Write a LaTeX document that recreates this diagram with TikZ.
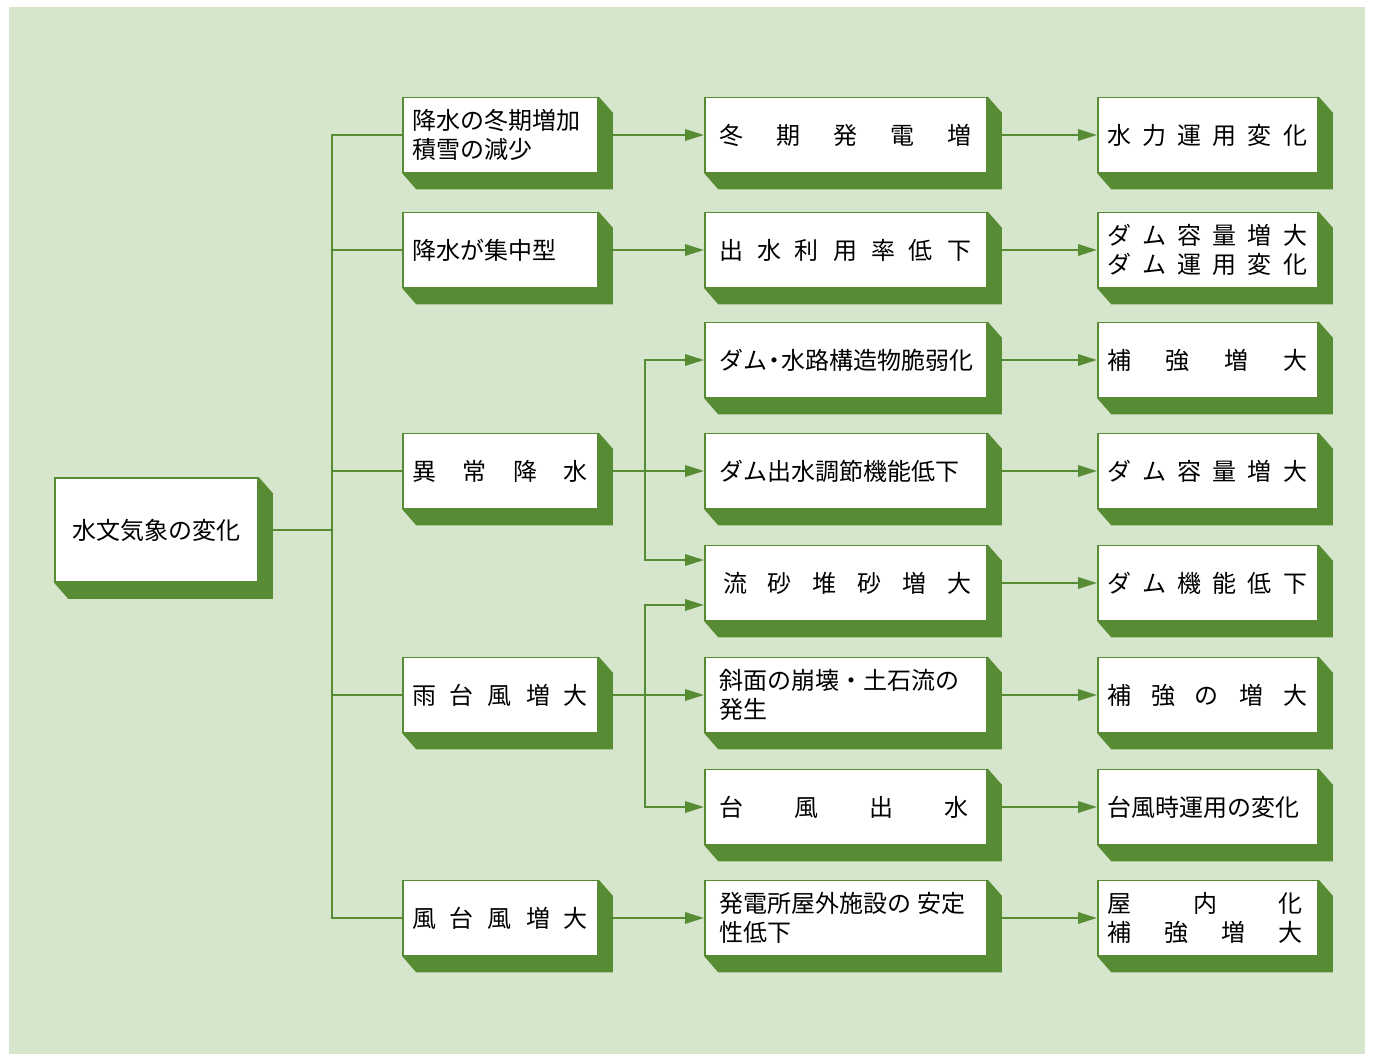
\documentclass[tikz,border=0pt]{standalone}
\usepackage{fontspec}
\setmainfont{Noto Sans CJK JP}
\usetikzlibrary{arrows.meta,calc}
\definecolor{bgg}{RGB}{214,230,204}
\definecolor{dg}{RGB}{88,140,52}
\pgfdeclarelayer{bglayer}
\pgfdeclarelayer{shlayer}
\pgfsetlayers{bglayer,shlayer,main}
\newcommand\spr[2]{\makebox[#1][s]{#2}}
\begin{document}
\begin{tikzpicture}[x=1pt,y=-1pt,
  box/.style={draw=dg,line width=1.6pt,fill=white,rectangle,inner ysep=0pt,
    minimum height=75pt,align=left,font=\fontsize{24}{29}\selectfont,text=black},
  col1/.style={box,minimum width=203pt,minimum height=104pt,align=center},
  col2/.style={box,inner xsep=9pt,text width=177pt},
  col3/.style={box,inner xsep=14pt,text width=254pt},
  col4/.style={box,inner xsep=9pt,text width=202pt},
  conn/.style={dg,line width=2.8pt},
  arr/.style={conn,-{Triangle[length=19pt,width=11pt]}},
]
\useasboundingbox (0,0) rectangle (1373,1059);
\begin{pgfonlayer}{bglayer}
  \fill[white] (0,0) rectangle (1373,1059);
  \fill[bgg] (9,7) rectangle (1365,1054);
\end{pgfonlayer}

% column 1
\node[col1] (a) at (156.5,530) {水文気象の変化};

% column 2
\node[col2] (b0) at (500.5,135) {降水の冬期増加\\積雪の減少};
\node[col2] (b1) at (500.5,250) {降水が集中型};
\node[col2] (b3) at (500.5,471) {\spr{176pt}{異\hfill 常\hfill 降\hfill 水}};
\node[col2] (b5) at (500.5,695) {\spr{176pt}{雨\hfill 台\hfill 風\hfill 増\hfill 大}};
\node[col2] (b7) at (500.5,918) {\spr{176pt}{風\hfill 台\hfill 風\hfill 増\hfill 大}};

% column 3
\node[col3] (c0) at (846,135) {\spr{252pt}{冬\hfill 期\hfill 発\hfill 電\hfill 増}};
\node[col3] (c1) at (846,250) {\spr{252pt}{出\hfill 水\hfill 利\hfill 用\hfill 率\hfill 低\hfill 下}};
\node[col3] (c2) at (846,360) {ダム{\makebox[14pt]{・}}水路構造物脆弱化};
\node[col3] (c3) at (846,471) {ダム出水調節機能低下};
\node[col3] (c4) at (846,583) {\hspace{4pt}\spr{248pt}{流\hfill 砂\hfill 堆\hfill 砂\hfill 増\hfill 大}};
\node[col3] (c5) at (846,695) {斜面の崩壊・土石流の\\発生};
\node[col3] (c6) at (846,807) {\spr{250pt}{台\hfill 風\hfill 出\hfill 水}};
\node[col3] (c7) at (846,918) {発電所屋外施設の\hspace{6pt}安定\\性低下};

% column 4
\node[col4] (d0) at (1208,135) {\spr{200pt}{水\hfill 力\hfill 運\hfill 用\hfill 変\hfill 化}};
\node[col4] (d1) at (1208,250) {\spr{200pt}{ダ\hfill ム\hfill 容\hfill 量\hfill 増\hfill 大}\\\spr{200pt}{ダ\hfill ム\hfill 運\hfill 用\hfill 変\hfill 化}};
\node[col4] (d2) at (1208,360) {\spr{200pt}{補\hfill 強\hfill 増\hfill 大}};
\node[col4] (d3) at (1208,471) {\spr{200pt}{ダ\hfill ム\hfill 容\hfill 量\hfill 増\hfill 大}};
\node[col4] (d4) at (1208,583) {\spr{200pt}{ダ\hfill ム\hfill 機\hfill 能\hfill 低\hfill 下}};
\node[col4] (d5) at (1208,695) {\spr{200pt}{補\hfill 強\hfill の\hfill 増\hfill 大}};
\node[col4] (d6) at (1208,807) {台風時運用の変化};
\node[col4] (d7) at (1208,918) {\spr{196pt}{屋\hfill 内\hfill 化}\\\spr{196pt}{補\hfill 強\hfill 増\hfill 大}};

% extruded shadows
\begin{pgfonlayer}{shlayer}
  \foreach \n in {a,b0,b1,b3,b5,b7,c0,c1,c2,c3,c4,c5,c6,c7,d0,d1,d2,d3,d4,d5,d6,d7}
    \fill[dg] (\n.north east) -- ++(14,16) -- ($(\n.south east)+(14,16)$)
      -- ($(\n.south west)+(14,16)$) -- (\n.south west) -- cycle;
\end{pgfonlayer}

% trunk
\coordinate (t) at (332,530);
\draw[conn] (a.east) -- (t);
\draw[conn] (b0.west) -| (t);
\draw[conn] (b7.west) -| (t);
\foreach \n in {b1,b3,b5} \draw[conn] (\n.west) -- (\n.west -| t);

% column 2 -> column 3
\draw[arr] (b0.east) -- (c0.west);
\draw[arr] (b1.east) -- (c1.west);
\draw[arr] (b3.east) -- (c3.west);
\draw[arr] (b5.east) -- (c5.west);
\draw[arr] (b7.east) -- (c7.west);

\coordinate (j1) at (645,471);
\coordinate (c4u) at ($(c4.west)+(0,-23)$);
\draw[arr] (j1) |- (c2.west);
\draw[arr] (j1) |- (c4u);
\coordinate (j2) at (645,695);
\coordinate (c4l) at ($(c4.west)+(0,22)$);
\draw[arr] (j2) |- (c4l);
\draw[arr] (j2) |- (c6.west);

% column 3 -> column 4
\foreach \i in {0,...,7} \draw[arr] (c\i.east) -- (d\i.west);
\end{tikzpicture}
\end{document}
